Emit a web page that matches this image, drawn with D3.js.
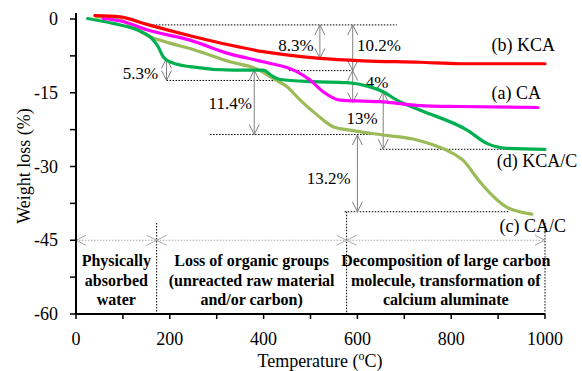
<!DOCTYPE html>
<html>
<head>
<meta charset="utf-8">
<script src="https://cdn.jsdelivr.net/npm/d3@7"></script>
<style>
  body { margin: 0; background: #fff; }
  svg { display: block; }
  text { font-family: "Liberation Serif", "Times New Roman", serif; }
</style>
</head>
<body>
<svg id="chart" width="582" height="371"></svg>
<script>
// TGA curves: temperature (°C) vs weight loss (%)
const kcaT  = [40, 94, 151, 243, 328, 399, 520, 612, 733, 819, 1000];
const kcaW  = [0.7, 0.45, -1.1, -3.4, -5.3, -6.65, -8.0, -8.5, -8.8, -9.1, -9.1];

const caT   = [58, 104, 151, 243, 328, 399, 471, 499, 527, 563, 612, 648, 733, 819, 985];
const caW   = [0.1, -0.6, -2.2, -4.3, -7.1, -8.7, -10.7, -12.4, -14.8, -16.5, -16.7, -16.8, -17.6, -17.8, -18.0];

const kcacT = [25, 79, 130, 161, 175, 186, 200, 243, 335, 399, 420, 435, 505, 578, 627, 655, 684, 733, 834, 876, 919, 1000];
const kcacW = [0.1, -0.9, -2.2, -3.9, -5.6, -7.7, -8.7, -9.7, -10.4, -10.4, -11.7, -12.3, -12.75, -12.95, -13.8, -14.8, -16.5, -18.5, -22.6, -25.3, -26.3, -26.5];

const cacT  = [44, 94, 158, 200, 243, 328, 386, 420, 450, 478, 514, 548, 584, 655, 727, 761, 797, 825, 861, 898, 919, 972];
const cacW  = [0.5, -0.2, -3.6, -4.9, -6.0, -8.7, -10.2, -12.1, -13.8, -16.5, -19.5, -21.9, -22.6, -23.6, -24.6, -25.6, -27.0, -28.7, -33.1, -36.8, -38.3, -39.7];

const seriesNames  = ["(b) KCA", "(a) CA", "(d) KCA/C", "(c) CA/C"];
const seriesColors = ["#ff0000", "#ff00ff", "#00b050", "#9bbb59"];
const labelT = [886, 886, 897, 903];
const labelW = [-6.5, -16.3, -30.1, -43.3];

// axis ticks
const xTicks = [0, 200, 400, 600, 800, 1000];
const xMinor = [100, 300, 500, 700, 900];
const yTicks = [0, -15, -30, -45, -60];
const yMinor = [-7.5, -22.5, -37.5, -52.5];

// weight-loss steps: temperature, from, to, label, label anchor
const stepT     = [520, 590, 590, 193, 380, 655, 600];
const stepFrom  = [-1.2, -1.2, -10.5, -8.0, -10.4, -14.8, -23.6];
const stepTo    = [-8.0, -10.5, -17.0, -12.5, -23.5, -26.5, -39.2];
const stepText  = ["8.3%", "10.2%", "4%", "5.3%", "11.4%", "13%", "13.2%"];
const stepLabT  = [431, 599, 618, 175, 375, 577, 492];
const stepLabW  = [-6.5, -6.5, -14.0, -12.2, -18.3, -21.3, -33.6];
const stepLabAnchor = ["start", "start", "start", "end", "end", "start", "start"];

// dotted reference levels
const refW    = [-1.2, -10.5, -12.5, -23.5, -26.5, -39.2];
const refFrom = [151, 454, 193, 286, 648, 573];
const refTo   = [684, 591, 441, 663, 1000, 924];

// temperature regions
const regionBounds = [0, 172, 577, 1000];
const regionTop    = [null, -41.5, -39.2, -41.5];
const regionLines  = [
  ["Physically", "absorbed", "water"],
  ["Loss of organic groups", "(unreacted raw material", "and/or carbon)"],
  ["Decomposition of large carbon", "molecule, transformation of", "calcium aluminate"]
];
const regionArrowW = -45;

const svg = d3.select("#chart");
const x = d3.scaleLinear().domain([0, 1000]).range([76, 545]);
const y = d3.scaleLinear().domain([-60, 0]).range([314, 19]);

// V-shaped open arrowhead at (px,py) pointing in direction (dx,dy)
function head(px, py, dx, dy, len = 10, half = 5) {
  const bx = px - dx * len, by = py - dy * len;
  const nx = -dy, ny = dx;
  return `M${bx + nx * half},${by + ny * half}L${px},${py}L${bx - nx * half},${by - ny * half}`;
}

// dotted reference lines
const g0 = svg.append("g");
refW.forEach((w, i) => {
  g0.append("line")
    .attr("x1", x(refFrom[i])).attr("x2", x(refTo[i]))
    .attr("y1", y(w)).attr("y2", y(w))
    .attr("stroke", "#000").attr("stroke-width", 1)
    .attr("stroke-dasharray", "1.5,1.5");
});

// region boundaries
regionBounds.forEach((t, i) => {
  if (regionTop[i] === null) return;
  g0.append("line")
    .attr("x1", x(t)).attr("x2", x(t))
    .attr("y1", y(regionTop[i])).attr("y2", y(-60))
    .attr("stroke", "#000").attr("stroke-width", 1)
    .attr("stroke-dasharray", "1.5,1.5");
});

// region double arrows
for (let i = 0; i < regionBounds.length - 1; i++) {
  const a = x(regionBounds[i]), b = x(regionBounds[i + 1]), yy = y(regionArrowW);
  g0.append("line").attr("x1", a).attr("x2", b).attr("y1", yy).attr("y2", yy)
    .attr("stroke", "#aaa").attr("stroke-width", 1).attr("stroke-dasharray", "1.5,1.5");
  g0.append("path").attr("d", head(a, yy, -1, 0) + head(b, yy, 1, 0))
    .attr("fill", "none").attr("stroke", "#aaa").attr("stroke-width", 1);
}

// region text
regionLines.forEach((lines, i) => {
  const cx = x((regionBounds[i] + regionBounds[i + 1]) / 2);
  lines.forEach((s, j) => {
    svg.append("text").attr("x", cx).attr("y", 266 + j * 19.5)
      .attr("text-anchor", "middle").attr("font-weight", "bold")
      .attr("font-size", 16).text(s);
  });
});

// step arrows
stepT.forEach((t, i) => {
  const px = x(t), y1 = y(stepFrom[i]), y2 = y(stepTo[i]);
  svg.append("line").attr("x1", px).attr("x2", px).attr("y1", y1).attr("y2", y2)
    .attr("stroke", "#808080").attr("stroke-width", 1);
  svg.append("path").attr("d", head(px, y1, 0, -1) + head(px, y2, 0, 1))
    .attr("fill", "none").attr("stroke", "#808080").attr("stroke-width", 1);
  svg.append("text").attr("x", x(stepLabT[i])).attr("y", y(stepLabW[i]))
    .attr("text-anchor", stepLabAnchor[i]).attr("font-size", 17).text(stepText[i]);
});

// curves
const seriesT = [kcaT, caT, kcacT, cacT];
const seriesW = [kcaW, caW, kcacW, cacW];
const line = d3.line().x(d => x(d[0])).y(d => y(d[1])).curve(d3.curveMonotoneX);
// draw in back-to-front order
[3, 2, 1, 0].forEach(k => {
  svg.append("path")
    .datum(d3.zip(seriesT[k], seriesW[k]))
    .attr("d", line)
    .attr("fill", "none")
    .attr("stroke", seriesColors[k])
    .attr("stroke-width", 3.2)
    .attr("stroke-linecap", "round")
    .attr("stroke-linejoin", "round");
});
seriesNames.forEach((n, k) => {
  svg.append("text").attr("x", x(labelT[k])).attr("y", y(labelW[k]))
    .attr("font-size", 18).text(n);
});

// axes
const gx = svg.append("g").attr("transform", `translate(0,${y(-60)})`);
gx.append("line").attr("x1", x(0) - 1).attr("x2", x(1000)).attr("stroke", "#000").attr("stroke-width", 2);
xTicks.concat(xMinor).forEach(t => {
  gx.append("line").attr("x1", x(t)).attr("x2", x(t)).attr("y1", 0).attr("y2", 5)
    .attr("stroke", "#000").attr("stroke-width", 1.5);
});
xTicks.forEach(t => {
  gx.append("text").attr("x", x(t)).attr("y", 31).attr("text-anchor", "middle")
    .attr("font-size", 18).text(t);
});

const gy = svg.append("g").attr("transform", `translate(${x(0)},0)`);
gy.append("line").attr("y1", y(0) - 6).attr("y2", y(-60) + 1).attr("stroke", "#000").attr("stroke-width", 2);
yTicks.concat(yMinor).forEach(w => {
  gy.append("line").attr("x1", -6).attr("x2", 0).attr("y1", y(w)).attr("y2", y(w))
    .attr("stroke", "#000").attr("stroke-width", 1.5);
});
yTicks.forEach(w => {
  gy.append("text").attr("x", -18).attr("y", y(w) + 6).attr("text-anchor", "end")
    .attr("font-size", 18).text(w);
});

// axis titles
const xt = svg.append("text").attr("x", 320).attr("y", 367).attr("text-anchor", "middle").attr("font-size", 18);
xt.append("tspan").text("Temperature (");
xt.append("tspan").attr("font-size", 12).attr("dy", -7).text("o");
xt.append("tspan").attr("dy", 7).text("C)");

svg.append("text").attr("transform", `translate(30,166) rotate(-90)`)
  .attr("text-anchor", "middle").attr("font-size", 18).text("Weight loss (%)");
</script>
</body>
</html>
